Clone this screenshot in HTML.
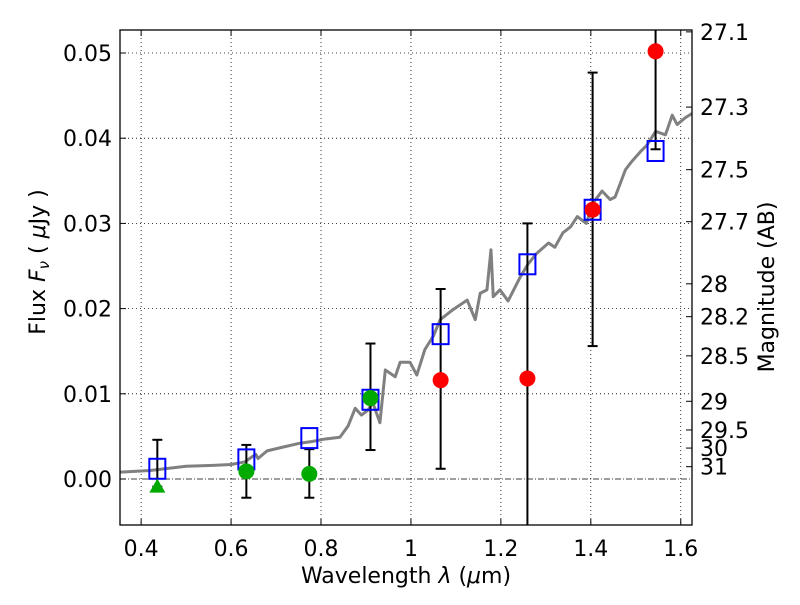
<!DOCTYPE html>
<html><head><meta charset="utf-8"><style>
body{margin:0;background:#fff}
svg text{font-family:"DejaVu Sans","Liberation Sans",sans-serif;fill:#000}
</style></head><body>
<svg id="c" width="800" height="600"></svg>
<script>
const xTicks=[0.4,0.6,0.8,1.0,1.2,1.4,1.6];
const xTickLabels=["0.4","0.6","0.8","1","1.2","1.4","1.6"];
const yTicks=[0,0.01,0.02,0.03,0.04,0.05];
const yTickLabels=["0.00","0.01","0.02","0.03","0.04","0.05"];
const magTicks=[27.1,27.3,27.5,27.7,28,28.2,28.5,29,29.5,30,31];
const specWl=[0.353,0.42,0.5,0.56,0.6,0.63,0.655,0.66,0.68,0.72,0.753,0.78,0.81,0.842,0.86,0.876,0.89,0.905,0.915,0.931,0.943,0.965,0.976,0.998,1.013,1.031,1.05,1.065,1.094,1.125,1.143,1.154,1.169,1.178,1.183,1.198,1.216,1.243,1.26,1.280,1.306,1.32,1.338,1.355,1.370,1.39,1.405,1.425,1.443,1.454,1.477,1.49,1.510,1.525,1.544,1.566,1.581,1.592,1.61,1.625];
const specFlux=[0.0008,0.0010,0.0015,0.0016,0.0017,0.0020,0.0029,0.0024,0.0033,0.0038,0.0042,0.0044,0.0047,0.0049,0.0062,0.0083,0.0075,0.0081,0.0090,0.0066,0.0128,0.0120,0.0137,0.0137,0.0122,0.0152,0.0168,0.0187,0.0199,0.0210,0.0187,0.0218,0.0222,0.0269,0.0214,0.0222,0.0209,0.0237,0.0252,0.0265,0.0277,0.0272,0.0289,0.0296,0.0308,0.0300,0.0324,0.0338,0.0328,0.0331,0.0363,0.0372,0.0384,0.0392,0.0408,0.0404,0.0427,0.0416,0.0424,0.0429];
const modelWl=[0.436,0.634,0.774,0.91,1.066,1.259,1.404,1.544];
const modelFlux=[0.0012,0.0023,0.0048,0.0093,0.0170,0.0252,0.0316,0.0385];
const obsWl=[0.436,0.634,0.774,0.91,1.066,1.259,1.404,1.544];
const obsFlux=[-0.0009,0.0009,0.0006,0.0095,0.0116,0.0118,0.0316,0.0502];
const errHi=[0.0046,0.0040,0.0035,0.0159,0.0223,0.0300,0.0477,0.056];
const errLo=[-0.0009,-0.0022,-0.0022,0.0034,0.0012,-0.012,0.0156,0.0387];
const obsKind=["tri","green","green","green","red","red","red","red"];

const L=120,R=692,T=30,B=525;
const X0=0.353,X1=1.625,Y0=-0.0054,Y1=0.0527;
const sx=v=>L+(v-X0)/(X1-X0)*(R-L);
const sy=v=>B-(v-Y0)/(Y1-Y0)*(B-T);
const NS="http://www.w3.org/2000/svg";
const svg=document.getElementById('c');
function mk(t,a,p){const e=document.createElementNS(NS,t);for(const k in a)e.setAttribute(k,a[k]);(p||svg).appendChild(e);return e;}
mk('clipPath',{id:'clp'}).appendChild(document.createElementNS(NS,'rect'));
const cr=svg.querySelector('#clp rect');cr.setAttribute('x',L);cr.setAttribute('y',T);cr.setAttribute('width',R-L);cr.setAttribute('height',B-T);
const plot=mk('g',{'clip-path':'url(#clp)'});


xTicks.forEach(v=>{const g=mk('line',{x1:sx(v),x2:sx(v),y1:T,y2:B,stroke:'#000','stroke-width':0.8,'stroke-dasharray':'1,3'},plot);

});
yTicks.forEach(v=>{const g=mk('line',{x1:L,x2:R,y1:sy(v),y2:sy(v),stroke:'#000','stroke-width':0.8,'stroke-dasharray':v==0?'6,2,1,2':'1,3'},plot);

});
const sp=mk('polyline',{points:specWl.map((w,i)=>sx(w)+','+sy(specFlux[i])).join(' '),fill:'none',stroke:'#808080','stroke-width':3,'stroke-linejoin':'round'},plot);


obsWl.forEach((w,i)=>{const x=sx(w);
const l=mk('line',{x1:x,x2:x,y1:sy(errHi[i]),y2:sy(errLo[i]),stroke:'#000','stroke-width':2},plot);


[errHi[i],errLo[i]].forEach(v=>{const c=mk('line',{x1:x-5,x2:x+5,y1:sy(v),y2:sy(v),stroke:'#000','stroke-width':2},plot);

});});
modelWl.forEach((w,i)=>{const s=mk('rect',{x:sx(w)-8,y:sy(modelFlux[i])-10,width:16,height:20,fill:'none',stroke:'#0000ff','stroke-width':2},plot);

});
obsWl.forEach((w,i)=>{const x=sx(w),y=sy(obsFlux[i]);let e;
if(obsKind[i]=='tri'){e=mk('polygon',{points:`${x},${y-8} ${x-8},${y+6} ${x+8},${y+6}`,fill:'#00aa00'},plot);}
else e=mk('circle',{cx:x,cy:y,r:8,fill:obsKind[i]=='red'?'#ff0000':'#00aa00'},plot);

});
const fr=mk('rect',{x:L,y:T,width:R-L,height:B-T,fill:'none',stroke:'#000','stroke-width':1.3});


xTicks.forEach((v,i)=>{mk('line',{x1:sx(v),x2:sx(v),y1:B,y2:B-6,stroke:'#000'});mk('line',{x1:sx(v),x2:sx(v),y1:T,y2:T+6,stroke:'#000'});
const t=mk('text',{x:sx(v),y:B+31,'text-anchor':'middle','font-size':22});t.textContent=xTickLabels[i];

});
yTicks.forEach((v,i)=>{mk('line',{x1:L,x2:L+6,y1:sy(v),y2:sy(v),stroke:'#000'});
const t=mk('text',{x:L-8,y:sy(v)+8,'text-anchor':'end','font-size':22});t.textContent=yTickLabels[i];

});
magTicks.forEach(m=>{const f=Math.pow(10,-(m-23.9)/2.5);const y=sy(f);
mk('line',{x1:R,x2:R-6,y1:y,y2:y,stroke:'#000'});
const t=mk('text',{x:R+8,y:y+8,'font-size':22});t.textContent=String(m);

});
const xl=mk('text',{x:406,y:583,'text-anchor':'middle','font-size':22});
xl.innerHTML='Wavelength  <tspan font-style="italic">λ</tspan> (<tspan font-style="italic">μ</tspan>m)';


const yl=mk('text',{x:0,y:0,'text-anchor':'middle','font-size':22,transform:'translate(45,262) rotate(-90)'});
yl.innerHTML='Flux  <tspan font-style="italic">F</tspan><tspan font-style="italic" font-size="15" dy="4">ν</tspan><tspan dy="-4">  ( </tspan><tspan font-style="italic">μ</tspan>Jy )';


const rl=mk('text',{x:0,y:0,'text-anchor':'middle','font-size':22,transform:'translate(774,287) rotate(-90)'});
rl.textContent='Magnitude (AB)';


</script>
</body></html>
